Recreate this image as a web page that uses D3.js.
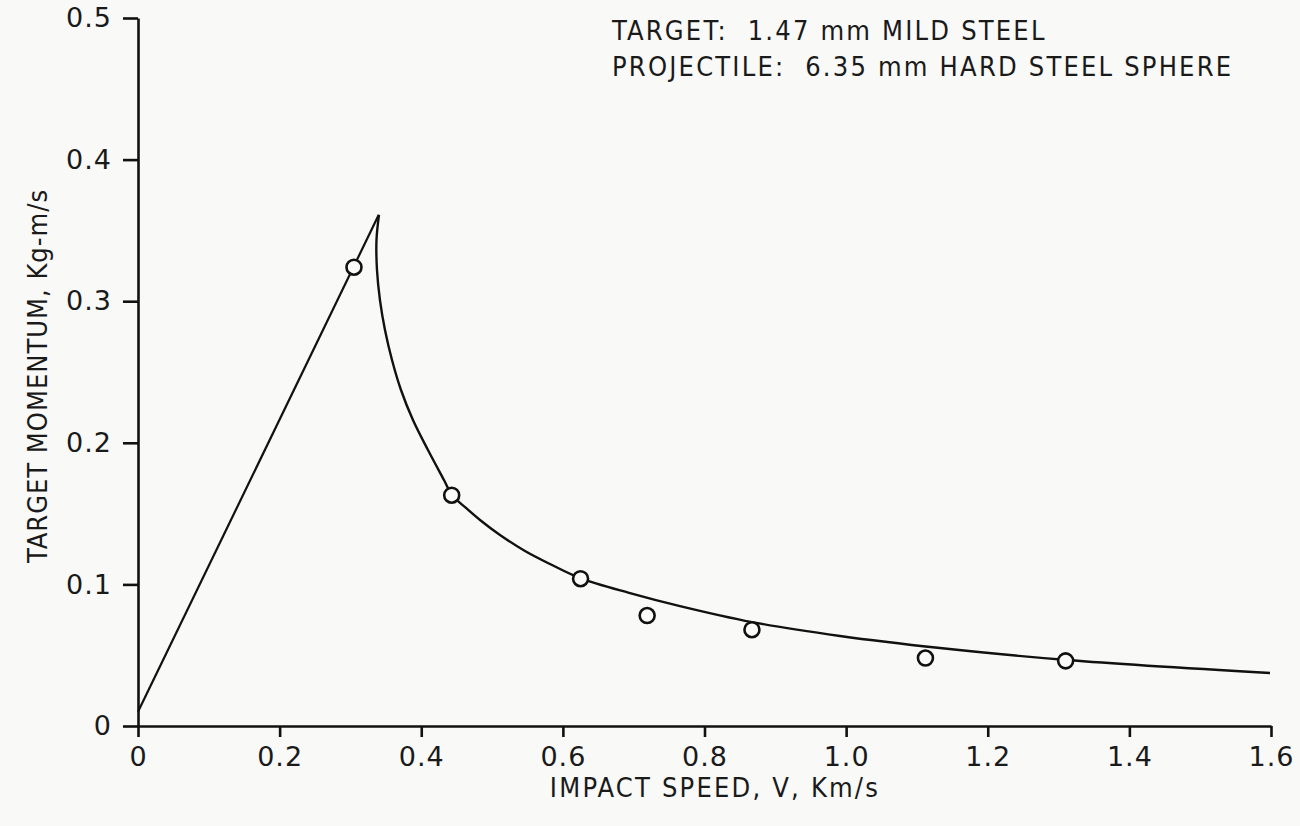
<!DOCTYPE html>
<html>
<head>
<meta charset="utf-8">
<script src="https://cdn.jsdelivr.net/npm/d3@7"></script>
<style>
  body { margin: 0; background: #f9f9f7; }
  svg { display: block; }
  text { fill: #1a1a1a; }
  .tick text { font-family: "DejaVu Sans", sans-serif; font-size: 27px; letter-spacing: 1px; fill: #1a1a1a; }
  .lbl { font-family: "DejaVu Sans Condensed", "DejaVu Sans", sans-serif; font-stretch: condensed; font-size: 27px; letter-spacing: 2.2px; white-space: pre; }
  .ylbl { letter-spacing: 1px; }
</style>
</head>
<body>
<svg id="chart" width="1300" height="826"></svg>
<script>
// tick values
var xTicks = [0, 0.2, 0.4, 0.6, 0.8, 1.0, 1.2, 1.4, 1.6];
var xTickLabels = ["0", "0.2", "0.4", "0.6", "0.8", "1.0", "1.2", "1.4", "1.6"];
var yTicks = [0, 0.1, 0.2, 0.3, 0.4, 0.5];
var yTickLabels = ["0", "0.1", "0.2", "0.3", "0.4", "0.5"];

// measured points (open circles)
var pointSpeed = [0.305, 0.443, 0.625, 0.719, 0.867, 1.112, 1.310];
var pointMomentum = [0.324, 0.163, 0.104, 0.078, 0.068, 0.048, 0.046];

// rising straight line
var riseSpeed = [0, 0.340];
var riseMomentum = [0.01, 0.361];

// falling curve
var curveSpeed = [0.3403, 0.3368, 0.3375, 0.3417, 0.3488, 0.3587, 0.3714, 0.3883, 0.4095, 0.4321, 0.4434, 0.4632, 0.4830, 0.5112, 0.5465, 0.5818, 0.6242, 0.6948, 0.7654, 0.8671, 0.9914, 1.1326, 1.3119, 1.5986];
var curveMomentum = [0.3609, 0.3432, 0.3220, 0.3008, 0.2797, 0.2585, 0.2373, 0.2161, 0.1949, 0.1737, 0.1631, 0.1540, 0.1455, 0.1349, 0.1236, 0.1144, 0.1045, 0.0939, 0.0847, 0.0734, 0.0636, 0.0551, 0.0466, 0.0374];

var svg = d3.select("#chart");
var x = d3.scaleLinear().domain([0, 1.6]).range([138, 1271]);
var y = d3.scaleLinear().domain([0, 0.5]).range([726, 18]);

var xAxis = svg.append("g")
    .attr("transform", "translate(0," + y(0) + ")")
    .call(d3.axisBottom(x).tickValues(xTicks).tickSize(11).tickSizeOuter(0)
        .tickFormat(function(d, i) { return xTickLabels[i]; }));
xAxis.select(".domain").attr("stroke", "#111").attr("stroke-width", 2.6);
xAxis.selectAll(".tick line").attr("stroke", "#111").attr("stroke-width", 2.6);
xAxis.selectAll(".tick text").attr("y", 21);

var yAxis = svg.append("g")
    .attr("transform", "translate(" + x(0) + ",0)")
    .call(d3.axisLeft(y).tickValues(yTicks).tickSize(15).tickSizeOuter(0)
        .tickFormat(function(d, i) { return yTickLabels[i]; }));
yAxis.select(".domain").attr("stroke", "#111").attr("stroke-width", 2.6);
yAxis.selectAll(".tick line").attr("stroke", "#111").attr("stroke-width", 2.6);
yAxis.selectAll(".tick text").attr("x", -26);

var line = d3.line()
    .x(function(d) { return x(d[0]); })
    .y(function(d) { return y(d[1]); });

svg.append("path")
    .datum(d3.zip(riseSpeed, riseMomentum))
    .attr("d", line)
    .attr("fill", "none").attr("stroke", "#111").attr("stroke-width", 2.2);

svg.append("path")
    .datum(d3.zip(curveSpeed, curveMomentum))
    .attr("d", line.curve(d3.curveCatmullRom.alpha(0.5)))
    .attr("fill", "none").attr("stroke", "#111").attr("stroke-width", 2.4);

svg.selectAll("circle.pt")
    .data(d3.zip(pointSpeed, pointMomentum))
    .enter().append("circle")
    .attr("class", "pt")
    .attr("cx", function(d) { return x(d[0]); })
    .attr("cy", function(d) { return y(d[1]); })
    .attr("r", 7.5)
    .attr("fill", "#fbfbfa").attr("stroke", "#111").attr("stroke-width", 2.6);

svg.append("text").attr("class", "lbl")
    .attr("x", 715).attr("y", 797).attr("text-anchor", "middle")
    .text("IMPACT SPEED, V, Km/s");

svg.append("text").attr("class", "lbl ylbl")
    .attr("transform", "translate(47,376) rotate(-90)")
    .attr("text-anchor", "middle")
    .text("TARGET MOMENTUM, Kg-m/s");

svg.append("text").attr("class", "lbl")
    .attr("x", 612).attr("y", 40)
    .text("TARGET:  1.47 mm MILD STEEL");

svg.append("text").attr("class", "lbl")
    .attr("x", 612).attr("y", 76)
    .text("PROJECTILE:  6.35 mm HARD STEEL SPHERE");
</script>
</body>
</html>
